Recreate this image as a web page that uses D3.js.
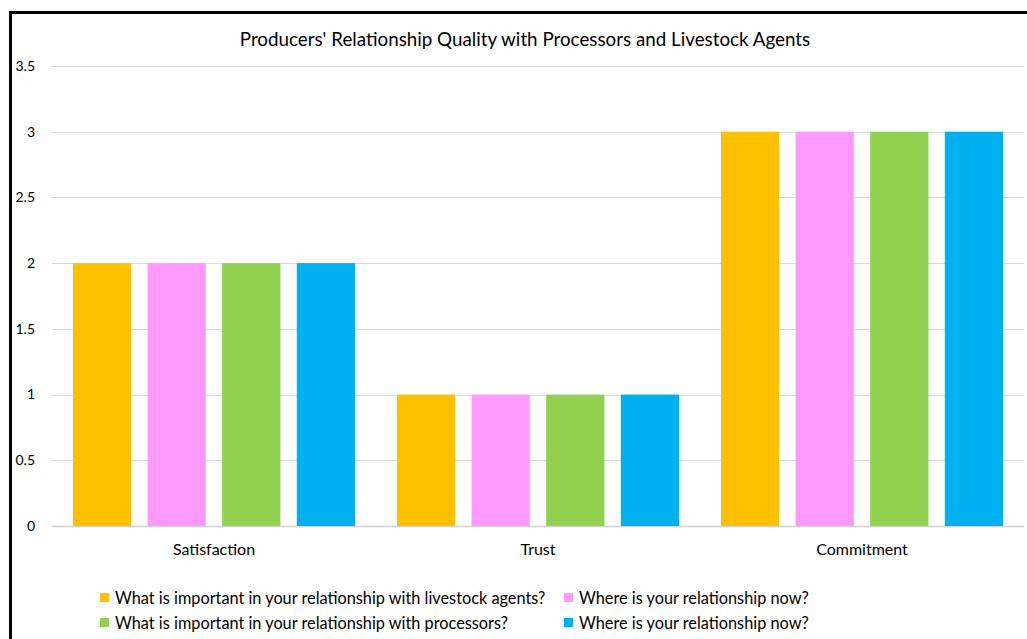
<!DOCTYPE html>
<html><head><meta charset="utf-8">
<script src="https://cdn.jsdelivr.net/npm/d3@7"></script>
<style>
html,body{margin:0;padding:0;background:#fff;overflow:hidden}
text{font-family:Lato,"Open Sans",sans-serif;fill:#000}
</style></head>
<body>
<script>
const categories = ["Satisfaction", "Trust", "Commitment"];
const seriesNames = [
  "What is important in your relationship with livestock agents?",
  "Where is your relationship now?",
  "What is important in your relationship with processors?",
  "Where is your relationship now?"
];
const seriesColors = ["#FFC000", "#FF99FF", "#92D050", "#00B0F0"];
const s1 = [2, 1, 3];
const s2 = [2, 1, 3];
const s3 = [2, 1, 3];
const s4 = [2, 1, 3];
const seriesValues = [s1, s2, s3, s4];
const yTicks = [0, 0.5, 1, 1.5, 2, 2.5, 3, 3.5];
const title = "Producers' Relationship Quality with Processors and Livestock Agents";

const W = 1027, H = 639;
const svg = d3.select("body").append("svg").attr("width", W).attr("height", H);

// frame
svg.append("rect").attr("x", 10.5).attr("y", 12.5).attr("width", 1100).attr("height", 700)
  .attr("fill", "none").attr("stroke", "#000").attr("stroke-width", 3);

const plot = {left: 52, right: 1024, top: 66, bottom: 526};
const x = d3.scaleBand().domain(categories).range([plot.left, plot.right]).paddingInner(0).paddingOuter(0);
const y = d3.scaleLinear().domain([0, 3.5]).range([plot.bottom, plot.top]);
const outer = x.bandwidth() * 21 / 324;
const xi = d3.scaleBand().domain(d3.range(seriesNames.length))
  .range([outer, x.bandwidth() - outer]).paddingInner(0.22).paddingOuter(0);

// gridlines
svg.append("g").selectAll("line").data(yTicks).join("line")
  .attr("x1", plot.left).attr("x2", plot.right)
  .attr("y1", d => Math.round(y(d)) + 0.5).attr("y2", d => Math.round(y(d)) + 0.5)
  .attr("stroke", d => d === 0 ? "#d0d0d0" : "#d9d9d9").attr("stroke-width", d => d === 0 ? 1.5 : 1);

// y labels
svg.append("g").selectAll("text").data(yTicks).join("text")
  .attr("x", 35).attr("y", d => y(d)).attr("dy", "0.35em")
  .attr("text-anchor", "end").style("font-size", "14px").text(d => d);

// bars
seriesValues.forEach((vals, si) => {
  svg.append("g").selectAll("rect").data(vals).join("rect")
    .attr("x", (d, i) => x(categories[i]) + xi(si))
    .attr("width", xi.bandwidth())
    .attr("y", d => y(d))
    .attr("height", d => y(0) - y(d))
    .attr("fill", seriesColors[si]);
});

// category labels
svg.append("g").selectAll("text").data(categories).join("text")
  .attr("x", d => x(d) + x.bandwidth() / 2).attr("y", 555)
  .attr("text-anchor", "middle").style("font-size", "16px").text(d => d);

// title
svg.append("text").attr("x", 525).attr("y", 46).attr("text-anchor", "middle")
  .style("font-size", "18.8px").text(title);

// legend
const legPos = [[100, 598], [564, 598], [100, 623], [564, 623]];
seriesNames.forEach((n, i) => {
  const g = svg.append("g").attr("transform", `translate(${legPos[i][0]},${legPos[i][1]})`);
  g.append("rect").attr("x", 0).attr("y", -5).attr("width", 9).attr("height", 9).attr("fill", seriesColors[i]);
  g.append("text").attr("x", 15).attr("y", 0).attr("dy", "0.35em").style("font-size", "16.3px").text(n);
});
</script>
</body></html>
